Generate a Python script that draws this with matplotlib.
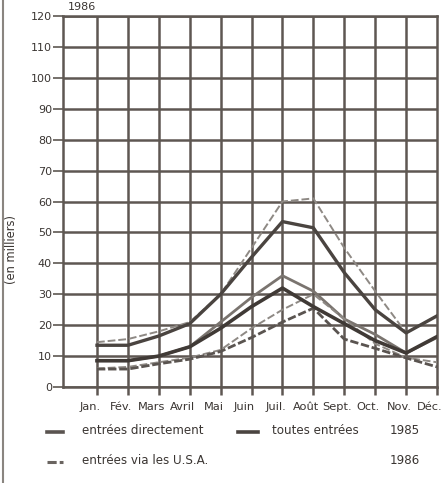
import matplotlib
matplotlib.use("Agg")
import matplotlib.pyplot as plt
from matplotlib.lines import Line2D
from matplotlib.transforms import ScaledTranslation

plt.rcParams['font.family'] = ['DejaVu Sans']

months = ["Jan.", "Fév.", "Mars", "Avril", "Mai", "Juin", "Juil.", "Août",
          "Sept.", "Oct.", "Nov.", "Déc."]
month_pos = list(range(1, 13))
yticks = [0, 10, 20, 30, 40, 50, 60, 70, 80, 90, 100, 110, 120]

toutes_1985 = [14.5, 15.5, 18, 21, 30, 45, 60, 61, 45, 31, 17.5, 23]
toutes_1986 = [13.5, 13.5, 16.5, 20.5, 30, 42, 53.5, 51.5, 37, 25, 17.5, 23]
direct_1985 = [8.5, 8.5, 10, 13, 21, 29, 36, 31, 22, 17, 11, 16]
direct_1986 = [8.5, 8.5, 10, 13, 19, 26, 32, 26, 20.5, 15, 11, 16.3]
via_1985 = [6, 6.5, 8, 9.5, 12, 19, 25, 30, 22, 14, 9.5, 8]
via_1986 = [5.8, 5.8, 7.5, 9, 11.5, 16, 21, 25.5, 15.5, 12.5, 9.4, 6.5]

W, H = 448, 483
fig = plt.figure(figsize=(W / 100, H / 100), dpi=100)
fig.patch.set_facecolor('white')
ax = fig.add_axes([63 / W, 1 - 387 / H, (437 - 63) / W, (387 - 16) / H])

grid_c = '#5e5752'
txt_c = '#3a3532'
ax.set_xlim(-0.1, 12)
ax.set_ylim(0, 120)
for y in yticks:
    ax.axhline(y, color=grid_c, lw=1.8, zorder=1)
for x in month_pos[:-1]:
    ax.axvline(x, color=grid_c, lw=1.8, zorder=1)
for s in ax.spines.values():
    s.set_color(grid_c)
    s.set_linewidth(1.8)

ax.plot(month_pos, toutes_1985, color='#8e8984', lw=1.4, ls=(0, (4, 1.5)), zorder=3)
ax.plot(month_pos, toutes_1986, color='#4a4440', lw=2.4, zorder=4)
ax.plot(month_pos, direct_1985, color='#7a746f', lw=2.0, zorder=3)
ax.plot(month_pos, direct_1986, color='#403a36', lw=2.6, zorder=4)
ax.plot(month_pos, via_1985, color='#8e8984', lw=1.4, ls=(0, (4, 1.5)), zorder=3)
ax.plot(month_pos, via_1986, color='#5a5450', lw=2.0, ls=(0, (3, 1)), zorder=3)

ax.set_yticks(yticks)
ax.set_yticklabels([str(v) for v in yticks], fontsize=8, color=txt_c)
ax.set_xticks(month_pos)
ax.set_xticklabels(months, fontsize=8.2, color=txt_c)
ax.tick_params(axis='y', direction='out', length=7, width=1.2, color=grid_c, pad=1)
ax.tick_params(axis='x', direction='out', length=6, width=1.8, color=grid_c, pad=5)
shift = ScaledTranslation(-7 / 100, 0, fig.dpi_scale_trans)
for lab in ax.get_xticklabels():
    lab.set_transform(lab.get_transform() + shift)

fig.text(11 / W, 1 - 250 / H, "(en milliers)", rotation=90, fontsize=8.3,
         color=txt_c, ha='center', va='center')
fig.text(68 / W, 1 - 7 / H, "1986", fontsize=8, color=txt_c,
         ha='left', va='center')

# left scan border
fig.add_artist(Line2D([3 / W, 3 / W], [0, 1], color='#8a8580', lw=1.5))

def leg_line(x0, x1, y, **kw):
    fig.add_artist(Line2D([x0 / W, x1 / W], [1 - y / H, 1 - y / H], **kw))

row1, row2 = 431, 461
fs = 8.6
leg_line(47, 63, row1 + 1, color='#5a5450', lw=2.6)
fig.text(82 / W, 1 - row1 / H, "entrées directement", fontsize=fs, color=txt_c, va='center')
leg_line(238, 258, row1 + 1, color='#4a4440', lw=2.6)
fig.text(272 / W, 1 - row1 / H, "toutes entrées", fontsize=fs, color=txt_c, va='center')
fig.text(390 / W, 1 - row1 / H, "1985", fontsize=fs, color=txt_c, va='center')
leg_line(47, 63, row2 + 1, color='#6a6460', lw=2.2, ls=(0, (3, 1)))
fig.text(82 / W, 1 - row2 / H, "entrées via les U.S.A.", fontsize=fs, color=txt_c, va='center')
fig.text(390 / W, 1 - row2 / H, "1986", fontsize=fs, color=txt_c, va='center')

fig.savefig("out.png", dpi=100, facecolor='white')
